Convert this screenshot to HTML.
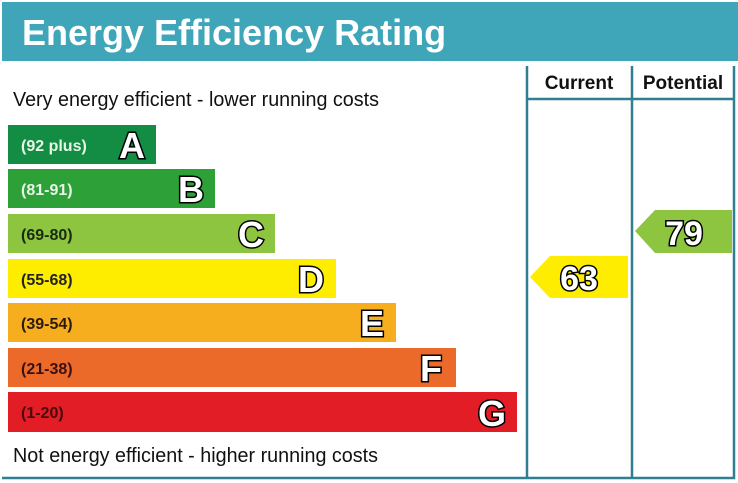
<!DOCTYPE html>
<html><head><meta charset="utf-8"><style>
html,body{margin:0;padding:0;background:#fff;}
svg{display:block;}
.o{paint-order:stroke fill;}
</style></head><body>
<svg width="738" height="483" viewBox="0 0 738 483" xmlns="http://www.w3.org/2000/svg" font-family="Liberation Sans, Arial, sans-serif">
<rect x="2" y="2" width="736" height="59" fill="#3fa5b8"/>
<text x="22" y="45" font-size="36" font-weight="bold" fill="#fff">Energy Efficiency Rating</text>
<g stroke="#2e7f8f" stroke-width="2.5" fill="none">
<line x1="527" y1="66" x2="527" y2="479"/>
<line x1="632" y1="66" x2="632" y2="479"/>
<line x1="734" y1="66" x2="734" y2="479"/>
<line x1="527" y1="99" x2="734" y2="99"/>
<line x1="2" y1="478" x2="735" y2="478"/>
</g>
<text x="579" y="89" font-size="19" font-weight="bold" text-anchor="middle" fill="#111">Current</text>
<text x="683" y="89" font-size="19" font-weight="bold" text-anchor="middle" fill="#111">Potential</text>
<text x="13" y="106" font-size="20" fill="#111" textLength="366" lengthAdjust="spacingAndGlyphs">Very energy efficient - lower running costs</text>
<text x="13" y="462" font-size="20" fill="#111" textLength="365" lengthAdjust="spacingAndGlyphs">Not energy efficient - higher running costs</text>
<g font-weight="bold">
<rect x="8" y="125" width="148" height="39" fill="#138c44"/>
<text x="21" y="151" font-size="16" fill="#e8f5e8">(92 plus)</text>
<text class="o" x="145" y="158" font-size="36" text-anchor="end" fill="#fff" stroke="#000" stroke-width="3">A</text>
<rect x="8" y="169" width="207" height="39" fill="#2da037"/>
<text x="21" y="195" font-size="16" fill="#e8f5e8">(81-91)</text>
<text class="o" x="204" y="202" font-size="36" text-anchor="end" fill="#fff" stroke="#000" stroke-width="3">B</text>
<rect x="8" y="214" width="267" height="39" fill="#8dc540"/>
<text x="21" y="240" font-size="16" fill="#1a2a10">(69-80)</text>
<text class="o" x="264" y="247" font-size="36" text-anchor="end" fill="#fff" stroke="#000" stroke-width="3">C</text>
<rect x="8" y="259" width="328" height="39" fill="#ffed00"/>
<text x="21" y="285" font-size="16" fill="#222">(55-68)</text>
<text class="o" x="324" y="292" font-size="36" text-anchor="end" fill="#fff" stroke="#000" stroke-width="3">D</text>
<rect x="8" y="303" width="388" height="39" fill="#f6ad1e"/>
<text x="21" y="329" font-size="16" fill="#2a1a10">(39-54)</text>
<text class="o" x="384" y="336" font-size="36" text-anchor="end" fill="#fff" stroke="#000" stroke-width="3">E</text>
<rect x="8" y="348" width="448" height="39" fill="#eb6a2a"/>
<text x="21" y="374" font-size="16" fill="#3a1010">(21-38)</text>
<text class="o" x="442" y="381" font-size="36" text-anchor="end" fill="#fff" stroke="#000" stroke-width="3">F</text>
<rect x="8" y="392" width="509" height="40" fill="#e21d26"/>
<text x="21" y="418" font-size="16" fill="#4a0a0a">(1-20)</text>
<text class="o" x="506" y="426" font-size="36" text-anchor="end" fill="#fff" stroke="#000" stroke-width="3">G</text>
<polygon points="530,277 550,256 628,256 628,298 550,298" fill="#ffed00"/>
<text class="o" x="579" y="290" font-size="34" text-anchor="middle" fill="#fff" stroke="#000" stroke-width="3">63</text>
<polygon points="635,231 655,210 732,210 732,253 655,253" fill="#8dc540"/>
<text class="o" x="684" y="245" font-size="34" text-anchor="middle" fill="#fff" stroke="#000" stroke-width="3">79</text>
</g>
</svg>
</body></html>
